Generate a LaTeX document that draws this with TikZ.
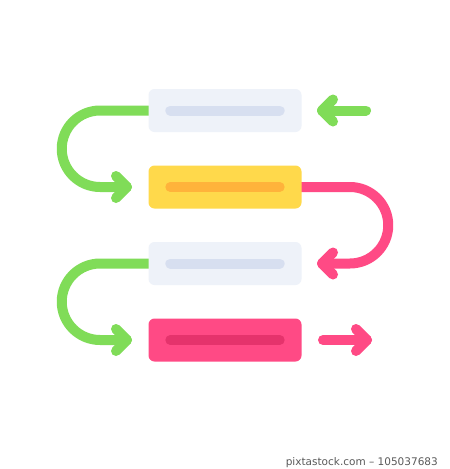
\documentclass[tikz,border=0pt]{standalone}
\usepackage{fontspec}
\newfontfamily\creditfont{DejaVu Sans}
\definecolor{cgreen}{HTML}{80DC58}
\definecolor{cpink}{HTML}{FF4A85}
\definecolor{cyellow}{HTML}{FFD94B}
\definecolor{corange}{HTML}{FFB33B}
\definecolor{clight}{HTML}{EEF2F9}
\definecolor{clightbar}{HTML}{D7DFF0}
\definecolor{cpinkbar}{HTML}{E5336C}
\definecolor{ccredit}{HTML}{5A5A5A}
\pgfdeclarelayer{back}
\pgfsetlayers{back,main}
\tikzset{
  stepbox/.style={rectangle, rounded corners=6pt, minimum width=153pt, minimum height=43pt, inner sep=0pt},
  innerbar/.style={line width=10pt, line cap=round},
  flow/.style={line width=10pt, line cap=round, line join=round},
}
\begin{document}
\begin{tikzpicture}[x=1pt,y=-1pt]
\begin{pgfonlayer}{back}
\fill[white] (0,0) rectangle (450,469);
\end{pgfonlayer}
\useasboundingbox (0,0) rectangle (450,469);
% boxes
\node[stepbox, fill=clight]  (b1) at (225,110.5) {};
\node[stepbox, fill=cyellow] (b2) at (225,187) {};
\node[stepbox, fill=clight]  (b3) at (225,263.5) {};
\node[stepbox, fill=cpink]   (b4) at (225,340) {};
% inner bars
\draw[innerbar, clightbar] ([xshift=22pt]b1.west) -- ([xshift=-22pt]b1.east);
\draw[innerbar, corange]   ([xshift=22pt]b2.west) -- ([xshift=-22pt]b2.east);
\draw[innerbar, clightbar] ([xshift=22pt]b3.west) -- ([xshift=-22pt]b3.east);
\draw[innerbar, cpinkbar]  ([xshift=22pt]b4.west) -- ([xshift=-22pt]b4.east);
% coordinates for arrow ends
\coordinate (g1tip) at (127,187);
\coordinate (g2tip) at (127,340);
\coordinate (intip) at (322,110.5);
\coordinate (inend) at (366,110.5);
\coordinate (p1tip) at (322,263.5);
\coordinate (outstart) at (323,340);
\coordinate (outtip) at (367,340);
\begin{pgfonlayer}{back}
% green curve 1
\draw[flow, cgreen] (b1.center) -- (100,110.5) arc[start angle=-90, end angle=-270, radius=38.25] -- (g1tip);
% green curve 2
\draw[flow, cgreen] (b3.center) -- (100,263.5) arc[start angle=-90, end angle=-270, radius=38.25] -- (g2tip);
% pink curve
\draw[flow, cpink] (b2.center) -- (350,187) arc[start angle=-90, end angle=90, radius=38.25] -- (p1tip);
\end{pgfonlayer}
\draw[flow, cgreen] ([shift={(-11,-11)}]g1tip) -- (g1tip) -- ([shift={(-11,11)}]g1tip);
\draw[flow, cgreen] ([shift={(-11,-11)}]g2tip) -- (g2tip) -- ([shift={(-11,11)}]g2tip);
\draw[flow, cpink] ([shift={(11,-11)}]p1tip) -- (p1tip) -- ([shift={(11,11)}]p1tip);
% incoming green arrow
\draw[flow, cgreen] (inend) -- (intip);
\draw[flow, cgreen] ([shift={(11,-11)}]intip) -- (intip) -- ([shift={(11,11)}]intip);
% outgoing pink arrow
\draw[flow, cpink] (outstart) -- (outtip);
\draw[flow, cpink] ([shift={(-11,-11)}]outtip) -- (outtip) -- ([shift={(-11,11)}]outtip);
% credit
\node[anchor=base east, inner sep=0pt, text=ccredit, font=\creditfont\fontsize{10.5}{12}\selectfont] (credit) at (438,465) {pixtastock.com – 105037683};
\end{tikzpicture}
\end{document}
